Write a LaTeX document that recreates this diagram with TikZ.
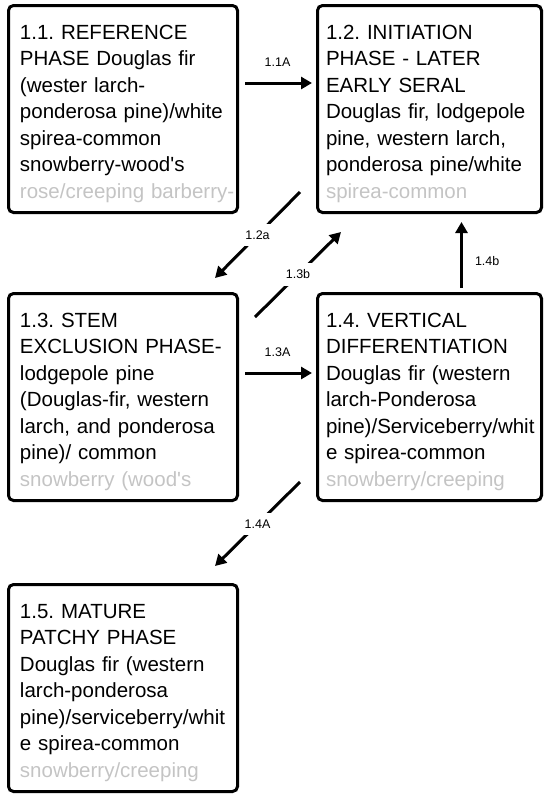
\documentclass[tikz,border=0pt]{standalone}
\usepackage{fontspec}
\setmainfont{Liberation Sans}[Ligatures=TeXOff]
\usepackage{xcolor}
\definecolor{FadeGray}{HTML}{C4C4C4}
\usetikzlibrary{arrows.meta,positioning}
\frenchspacing

\newcommand\phasefont{\fontsize{20.5}{26.5}\selectfont}
\newcommand\arrfont{\fontsize{12.5}{14}\selectfont}
\newcommand\fadeline[1]{\textcolor{FadeGray}{#1}}

\begin{document}
\begin{tikzpicture}[
  phase/.style={
    draw,line width=3pt,rounded corners=5pt,
    inner sep=0pt,text width=229pt,
    text height=33.5pt,text depth=173.5pt,
    font=\phasefont,
    execute at begin node={\leftskip=11.5pt}
  },
  phaseR/.style={phase,text width=224pt,
    execute at begin node={\leftskip=8.5pt}},
  arr/.style={-{Triangle[length=11pt,width=12pt]},line width=3pt},
  lbl/.style={font=\arrfont,inner sep=3pt},
  cut/.style={lbl,fill=white,inner xsep=4pt,inner ysep=7pt}
]
  \useasboundingbox (0,0) rectangle (544pt,-796pt);

  \node (ref) [phase,anchor=north west] at (7pt,-4pt) {1.1. REFERENCE\\
    PHASE Douglas fir\\
    (wester larch-\\
    ponderosa pine)/white\\
    spirea-common\\
    snowberry-wood's\\
    \fadeline{rose/creeping barberry-}};
  \node (init) [phaseR,right=77pt of ref] {1.2. INITIATION\\
    PHASE - LATER\\
    EARLY SERAL\\
    Douglas fir, lodgepole\\
    pine, western larch,\\
    ponderosa pine/white\\
    \fadeline{spirea-common}};
  \node (stem) [phase,below=78pt of ref] {1.3. STEM\\
    EXCLUSION PHASE-\\
    lodgepole pine\\
    (Douglas-fir, western\\
    larch, and ponderosa\\
    pine)/ common\\
    \fadeline{snowberry (wood's}};
  \node (vert) [phaseR,below=78pt of init] {1.4. VERTICAL\\
    DIFFERENTIATION\\
    Douglas fir (western\\
    larch-Ponderosa\\
    pine)/Serviceberry/whit\\
    e spirea-common\\
    \fadeline{snowberry/creeping}};
  \node (mature) [phase,below=81pt of stem] {1.5. MATURE\\
    PATCHY PHASE\\
    Douglas fir (western\\
    larch-ponderosa\\
    pine)/serviceberry/whit\\
    e spirea-common\\
    \fadeline{snowberry/creeping}};

  % transitions
  \draw[arr,shorten <=6pt,shorten >=4pt] ([yshift=26pt]ref.east) -- node (l11a) [lbl,above=12pt] {1.1A} ([yshift=26pt]init.west);
  \draw[arr] ([shift={(-16pt,22pt)}]init.south west) -- node (l12a) [cut] {1.2a} ([shift={(-24pt,14pt)}]stem.north east);
  \draw[arr] ([shift={(16pt,-25pt)}]stem.north east) -- node (l13b) [cut] {1.3b} ([shift={(25pt,-18pt)}]init.south west);
  \draw[arr,shorten <=4pt,shorten >=8pt] ([xshift=32pt]vert.north) -- node (l14b) [lbl,right=9pt,pos=0.4] {1.4b} ([xshift=32pt]init.south);
  \draw[arr,shorten <=6pt,shorten >=4pt] ([yshift=24pt]stem.east) -- node (l13a) [lbl,above=12pt] {1.3A} ([yshift=24pt]vert.west);
  \draw[arr] ([shift={(-16pt,20pt)}]vert.south west) -- node (l14a) [cut] {1.4A} ([shift={(-24pt,17pt)}]mature.north east);
\end{tikzpicture}
\end{document}
